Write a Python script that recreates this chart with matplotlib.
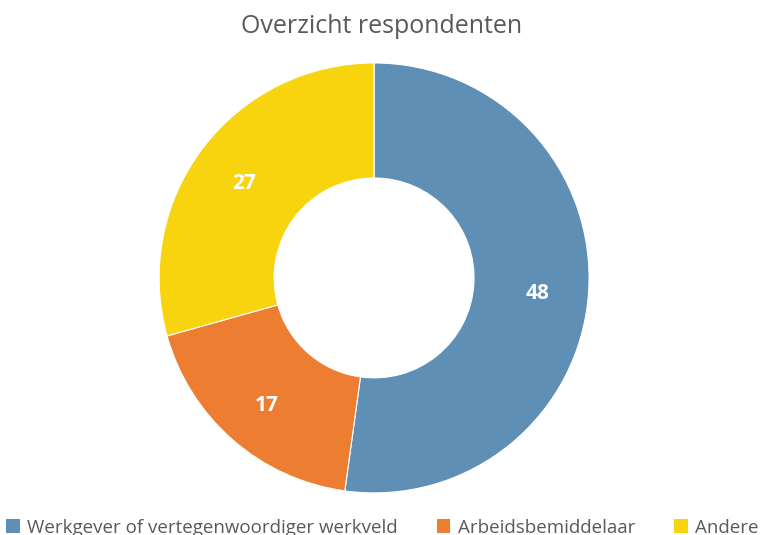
import numpy as np
import matplotlib.pyplot as plt
from matplotlib.patches import Patch

# Gegevens
categorieen = ['Werkgever of vertegenwoordiger werkveld', 'Arbeidsbemiddelaar', 'Andere']
aantallen = [48, 17, 27]
kleuren = ['#5F8FB4', '#ED7D31', '#F8D40F']

plt.rcParams['font.family'] = ['Open Sans', 'DejaVu Sans']

fig = plt.figure(figsize=(7.65, 5.35), dpi=100)
ax = fig.add_axes([0.208, 0.0785, 0.562, 0.804])

wedges, _ = ax.pie(aantallen, colors=kleuren, startangle=90, counterclock=False,
                   radius=1.0, wedgeprops=dict(width=0.535, edgecolor='white', linewidth=0.8))

# Waardelabels in de ring
for w, v in zip(wedges, aantallen):
    midden = np.deg2rad((w.theta1 + w.theta2) / 2)
    r = 0.76
    ax.text(r * np.cos(midden), r * np.sin(midden) - 0.02, str(v), ha='center', va='center',
            color='white', fontsize=15, fontweight='bold')

ax.set_xlim(-1, 1)
ax.set_ylim(-1, 1)
ax.set_aspect('equal')

fig.text(0.499, 0.951, 'Overzicht respondenten', ha='center', va='center',
         fontsize=18, color='#595959')

handles = [Patch(facecolor=c, edgecolor='none') for c in kleuren]
fig.legend(handles, categorieen, loc='center', bbox_to_anchor=(0.5, 0.014), ncol=3,
           frameon=False, fontsize=13.5, labelcolor='#595959', handlelength=0.7,
           handleheight=0.7, handletextpad=0.4, columnspacing=2.1)

fig.savefig('out.png', dpi=100)
